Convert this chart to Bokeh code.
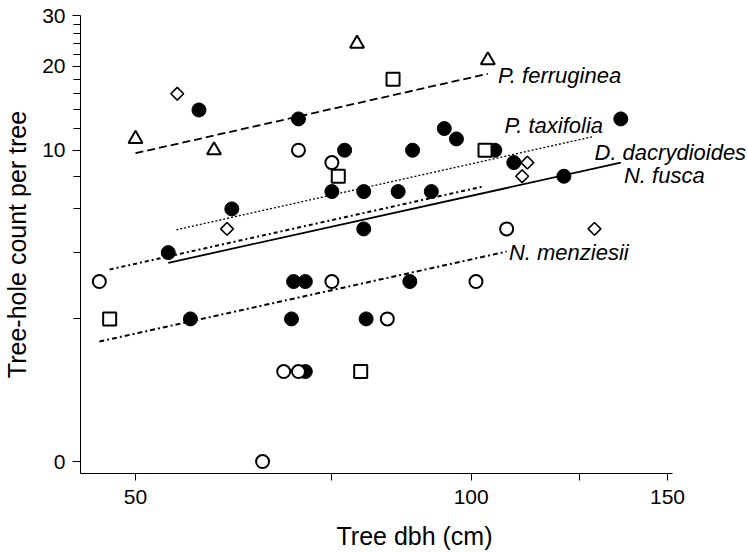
import math
from bokeh.plotting import figure
from bokeh.models import FixedTicker, Label
from bokeh.embed import file_html
from bokeh.resources import INLINE

FONT = "Liberation Sans"

# ---- data (tree dbh in cm, tree-hole count per tree) ----
fusca_dbh = [57.0, 70.0, 77.0, 88.6, 94.6, 97.0, 105.0, 109.2, 136.2, 121.1,
             75.0, 80.1, 86.0, 92.1, 61.0, 80.1, 53.5, 69.3, 71.0, 88.1,
             56.0, 69.0, 80.5, 71.0]
fusca_cnt = [14, 13, 10, 10, 12, 11, 10, 9, 13, 8,
             7, 7, 7, 7, 6, 5, 4, 3, 3, 3,
             2, 2, 2, 1]

menz_dbh = [70.0, 75.0, 46.4, 75.0, 101.0, 107.6, 84.1, 67.9, 70.0, 65.0]
menz_cnt = [10, 9, 3, 3, 3, 5, 2, 1, 1, 0]

dacry_dbh = [85.1, 76.0, 102.9, 47.4, 79.6]
dacry_cnt = [18, 8, 10, 2, 1]

ferr_dbh = [79.0, 103.5, 50.0, 58.8]
ferr_cnt = [24, 21, 11, 10]

taxi_dbh = [54.5, 60.4, 112.3, 111.1, 129.0]
taxi_cnt = [16, 5, 9, 8, 5]

# fitted lines (endpoints: dbh, count + 1)
species = ["P. ferruginea", "P. taxifolia", "D. dacrydioides", "N. fusca", "N. menziesii"]
fit_x0 = [50.0, 54.4, 47.4, 53.5, 46.4]
fit_x1 = [103.5, 128.8, 102.5, 136.2, 107.6]
fit_y0 = [10.75, 5.96, 4.39, 4.62, 2.52]
fit_y1 = [19.82, 12.23, 8.32, 9.99, 5.04]
fit_dash = ["8 4", "2 2", "4 3 2 3", "solid", "5 3 2 3"]
fit_width = [1.8, 1.3, 2.0, 1.8, 2.0]

# label anchors (dbh, count + 1)
label_x = [105.7, 107.1, 129.0, 137.1, 108.1]
label_y = [19.52, 13.31, 10.81, 9.03, 5.01]

x_ticks = [50, 100, 150]
x_minor = [75, 125]
x_axis_extent = (44.63, 151.56)
y_tick_counts = [0, 10, 20, 30]
y_minor_counts = [c for c in range(2, 30, 2) if c not in (10, 20)]

def p1(v):
    return [c + 1 for c in v]

p = figure(width=748, height=553,
           x_axis_type="log", y_axis_type="log",
           x_range=(44.63, 177.3), y_range=(0.912, 31.05),
           output_backend="svg", toolbar_location=None,
           min_border_left=80, min_border_right=0,
           min_border_top=15, min_border_bottom=80)

p.background_fill_color = "white"
p.border_fill_color = "white"
p.outline_line_color = None
p.xgrid.visible = False
p.ygrid.visible = False

# regression lines
for i in range(len(species)):
    p.line([fit_x0[i], fit_x1[i]], [fit_y0[i], fit_y1[i]],
           line_color="black", line_width=fit_width[i], line_dash=fit_dash[i])

# points
p.scatter(fusca_dbh, p1(fusca_cnt), marker="circle", size=14,
          fill_color="black", line_color="black", line_width=1)
p.scatter(menz_dbh, p1(menz_cnt), marker="circle", size=13,
          fill_color="white", line_color="black", line_width=2)
p.scatter(dacry_dbh, p1(dacry_cnt), marker="square", size=13,
          fill_color="white", line_color="black", line_width=2)
p.scatter(ferr_dbh, p1(ferr_cnt), marker="triangle", size=14,
          fill_color="white", line_color="black", line_width=2)
p.scatter(taxi_dbh, p1(taxi_cnt), marker="square", size=9, angle=math.pi / 4,
          fill_color="white", line_color="black", line_width=1.6)

# species labels
for name, lx, ly in zip(species, label_x, label_y):
    p.add_layout(Label(x=lx, y=ly, text=name, text_font=FONT,
                       text_font_size="22px", text_font_style="italic",
                       text_align="left", text_baseline="middle",
                       text_color="black"))

# axes
xa = p.xaxis[0]
xa.ticker = FixedTicker(ticks=x_ticks, minor_ticks=x_minor)
xa.major_label_overrides = {t: str(t) for t in x_ticks}
xa.bounds = x_axis_extent
ya = p.yaxis[0]
ya.ticker = FixedTicker(ticks=p1(y_tick_counts), minor_ticks=p1(y_minor_counts))
ya.major_label_overrides = {c + 1: str(c) for c in y_tick_counts}

for ax in (xa, ya):
    ax.axis_line_color = "black"
    ax.axis_line_width = 1
    ax.major_tick_line_color = "black"
    ax.minor_tick_line_color = "black"
    ax.major_tick_in = 0
    ax.minor_tick_in = 0
    ax.major_label_text_font = FONT
    ax.major_label_text_font_size = "21px"
    ax.major_label_text_color = "black"
    ax.axis_label_text_font = FONT
    ax.axis_label_text_font_size = "25px"
    ax.axis_label_text_font_style = "normal"
    ax.axis_label_text_color = "black"
    ax.axis_label_text_line_height = 1.0

xa.major_tick_out = 7
xa.minor_tick_out = 7
xa.major_label_standoff = 9
xa.axis_label = "Tree dbh (cm)"
xa.axis_label_standoff = 15

ya.major_tick_out = 8
ya.minor_tick_out = 7
ya.major_label_standoff = 7
ya.axis_label = "Tree-hole count per tree"
ya.axis_label_standoff = 8

open("out.html", "w").write(file_html(p, INLINE))
